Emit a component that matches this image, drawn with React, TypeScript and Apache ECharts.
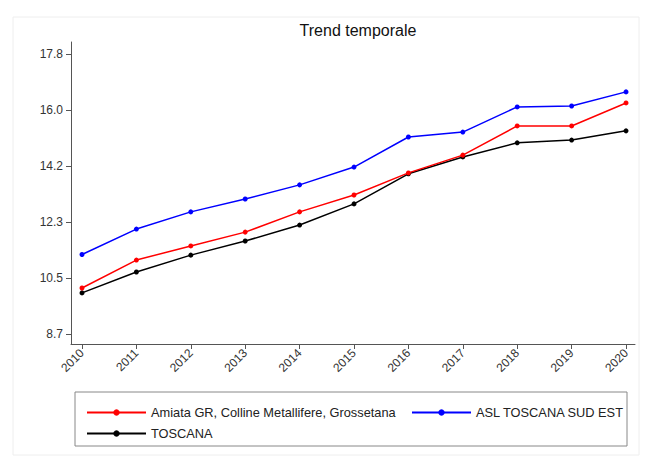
import React, { useEffect, useRef } from "react";
import * as echarts from "echarts";

const years = [2010, 2011, 2012, 2013, 2014, 2015, 2016, 2017, 2018, 2019, 2020];
const amiata = [10.18, 11.09, 11.55, 12.0, 12.66, 13.21, 13.93, 14.51, 15.46, 15.46, 16.21];
const aslSudEst = [11.27, 12.1, 12.66, 13.08, 13.54, 14.12, 15.1, 15.26, 16.08, 16.11, 16.57];
const toscana = [10.02, 10.7, 11.25, 11.71, 12.23, 12.92, 13.9, 14.45, 14.91, 15.0, 15.3];
const yTicks = [8.68, 10.505, 12.33, 14.155, 15.98, 17.805];
const names = ["Amiata GR, Colline Metallifere, Grossetana", "ASL TOSCANA SUD EST", "TOSCANA"];
const colors = ["#ff0000", "#0000ff", "#000000"];

export default function App() {
  const ref = useRef<HTMLDivElement>(null);
  useEffect(() => {
    if (!ref.current) return;
    const chart = echarts.init(ref.current, null, { renderer: "svg" });
    const seriesData = [amiata, aslSudEst, toscana];
    const font = "Liberation Sans, Arial, sans-serif";
    const legendBase = {
      orient: "horizontal",
      itemWidth: 59,
      itemHeight: 8,
      textStyle: { fontSize: 12.8, color: "#222", fontFamily: font },
      itemGap: 8,
    };
    chart.setOption({
      animation: false,
      backgroundColor: "#ffffff",
      title: {
        text: "Trend temporale",
        left: 353,
        textAlign: "center",
        top: 17,
        textStyle: { fontSize: 16, fontWeight: "normal", color: "#111", fontFamily: font },
      },
      graphic: [
        {
          type: "rect",
          shape: { x: 13, y: 17, width: 626, height: 438 },
          style: { fill: "none", stroke: "#eeeeee", lineWidth: 1 },
          silent: true,
        },
        {
          type: "rect",
          shape: { x: 75, y: 392, width: 552, height: 54 },
          style: { fill: "none", stroke: "#888888", lineWidth: 1 },
          silent: true,
        },
      ],
      legend: [
        { ...legendBase, data: [names[0]], left: 81, top: 401 },
        { ...legendBase, data: [names[1]], left: 406, top: 401 },
        { ...legendBase, data: [names[2]], left: 81, top: 422 },
      ],
      grid: { left: 71, right: 13, top: 42, bottom: 118 },
      xAxis: {
        type: "value",
        min: 2009.798,
        max: 2020.165,
        axisLine: { lineStyle: { color: "#555", width: 1 } },
        axisTick: { show: true, length: 5, customValues: years, lineStyle: { color: "#555" } },
        axisLabel: {
          customValues: years,
          rotate: 45,
          fontSize: 12,
          color: "#333",
          margin: 7,
          fontFamily: font,
          formatter: (v: number) => String(v),
        },
        splitLine: { show: false },
      },
      yAxis: {
        type: "value",
        min: 8.354,
        max: 18.196,
        axisLine: { show: true, lineStyle: { color: "#555", width: 1 } },
        axisTick: { show: true, length: 5, customValues: yTicks, lineStyle: { color: "#555" } },
        axisLabel: {
          customValues: yTicks,
          fontSize: 12,
          color: "#333",
          margin: 8,
          fontFamily: font,
          formatter: (v: number) => v.toFixed(1),
        },
        splitLine: { show: false },
      },
      series: names.map((n, i) => ({
        name: n,
        type: "line",
        data: years.map((y, j) => [y, seriesData[i][j]]),
        symbol: "circle",
        symbolSize: 5,
        lineStyle: { color: colors[i], width: 1.5 },
        itemStyle: { color: colors[i] },
        z: 3 - i,
      })),
    });
    return () => chart.dispose();
  }, []);
  return <div ref={ref} style={{ width: 648, height: 462, position: "absolute", left: 0, top: 0 }} />;
}
